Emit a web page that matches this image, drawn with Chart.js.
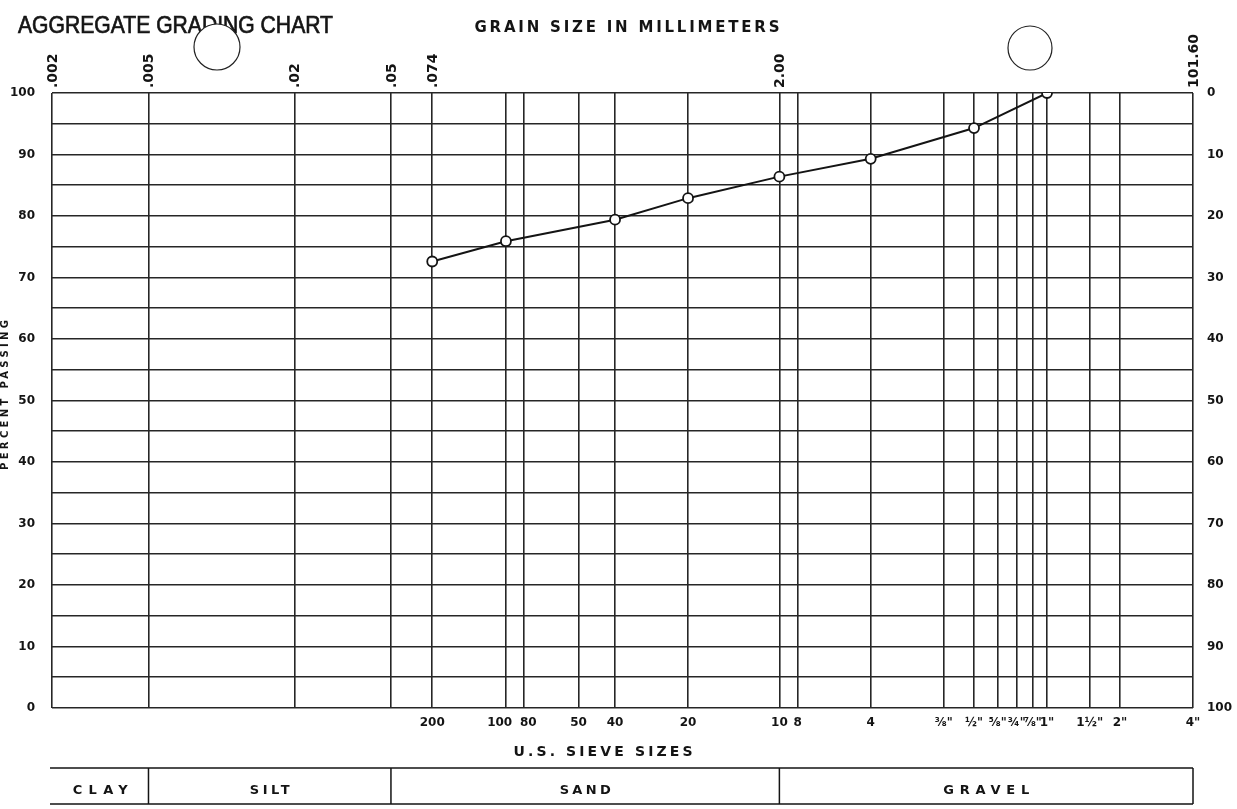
<!DOCTYPE html>
<html><head><meta charset="utf-8">
<script src="https://cdn.jsdelivr.net/npm/chart.js@4.4.1/dist/chart.umd.min.js"></script>
<style>html,body{margin:0;padding:0;background:#fff;overflow:hidden}#wrap{width:1237px;height:809px;position:relative}</style>
</head><body><div id="wrap"><canvas id="c" width="1237" height="809"></canvas></div>
<script>
// ---- text ----
const chartTitle = 'AGGREGATE GRADING CHART';
const topAxisTitle = 'GRAIN SIZE IN MILLIMETERS';
const bottomAxisTitle = 'U.S. SIEVE SIZES';
const leftAxisTitle = 'PERCENT PASSING';
// ---- grain size (mm) ticks on the top axis ----
const mmTicks = [0.002, 0.005, 0.02, 0.05, 0.074, 2.00, 101.6];
const mmLabels = ['.002', '.005', '.02', '.05', '.074', '2.00', '101.60'];
// ---- U.S. sieve sizes (mm) and their labels on the bottom axis ----
const sieveSizes = [0.074, 0.149, 0.177, 0.297, 0.42, 0.84, 2.00, 2.38, 4.76, 9.52, 12.7, 15.9, 19.05, 22.2, 25.4, 38.1, 50.8, 101.6];
const sieveLabels = ['200', '100', '80', '50', '40', '20', '10', '8', '4', '⅜"', '½"', '⅝"', '¾"', '⅞"', '1"', '1½"', '2"', '4"'];
// ---- test results: percent passing ----
const testSizes = [0.074, 0.149, 0.42, 0.84, 2.00, 4.76, 12.7, 25.4];
const percentPassing = [72.6, 75.9, 79.4, 82.9, 86.4, 89.3, 94.3, 100];
// ---- soil classification band ----
const soilClasses = ['CLAY', 'SILT', 'SAND', 'GRAVEL'];
const classBounds = [0.002, 0.005, 0.05, 2.00, 101.6];

const gridSizes = Array.from(new Set(mmTicks.concat(sieveSizes))).sort((a, b) => a - b);
const INK = '#141414';
const GRID = '#262626';
const FONT = '"DejaVu Sans", sans-serif';
const near = (a, b) => Math.abs(a - b) < 1e-9 * Math.max(1, b);

function spacedText(ctx, text, cx, cy, width, font) {
  ctx.save();
  ctx.font = font;
  ctx.letterSpacing = '0px';
  const w0 = ctx.measureText(text).width;
  const sp = text.length > 1 ? Math.max(0, (width - w0) / (text.length - 1)) : 0;
  ctx.letterSpacing = sp + 'px';
  ctx.textAlign = 'left';
  ctx.textBaseline = 'middle';
  ctx.fillText(text, cx - (w0 + sp * (text.length - 1)) / 2, cy);
  ctx.restore();
}

const decor = {
  id: 'decor',
  afterDraw(chart) {
    const ctx = chart.ctx;
    const xs = chart.scales.x;
    const area = chart.chartArea;
    ctx.save();
    ctx.fillStyle = INK;
    ctx.strokeStyle = INK;
    // title (condensed lettering)
    ctx.save();
    ctx.font = '24px "Liberation Sans", sans-serif';
    const tw = ctx.measureText(chartTitle).width;
    ctx.translate(18, 33);
    ctx.scale(315 / tw, 1);
    ctx.textBaseline = 'alphabetic';
    ctx.lineWidth = 0.7;
    ctx.fillText(chartTitle, 0, 0);
    ctx.strokeText(chartTitle, 0, 0);
    ctx.restore();
    // headers
    spacedText(ctx, topAxisTitle, 627, 28.5, 305, 'bold 15px ' + FONT);
    spacedText(ctx, bottomAxisTitle, 603, 752, 179, 'bold 14px ' + FONT);
    ctx.save();
    ctx.translate(5, 395);
    ctx.rotate(-Math.PI / 2);
    spacedText(ctx, leftAxisTitle, 0, 0, 150, 'bold 10px ' + FONT);
    ctx.restore();
    // classification band
    const yT = 768, yB = 804;
    ctx.lineWidth = 1.5;
    ctx.beginPath();
    ctx.moveTo(area.left - 2, yT); ctx.lineTo(area.right, yT);
    ctx.moveTo(area.left - 2, yB); ctx.lineTo(area.right, yB);
    classBounds.forEach((b, i) => {
      if (i === 0) return;
      const px = xs.getPixelForValue(b);
      ctx.moveTo(px, yT); ctx.lineTo(px, yB);
    });
    ctx.stroke();
    const widths = {CLAY: 55, SILT: 40, SAND: 51, GRAVEL: 86};
    soilClasses.forEach((name, i) => {
      const l = xs.getPixelForValue(classBounds[i]);
      const r = xs.getPixelForValue(classBounds[i + 1]);
      spacedText(ctx, name, (l + r) / 2, 791, widths[name], 'bold 13px ' + FONT);
    });
    // binder holes
    [[217, 47, 23], [1030, 48, 22]].forEach(([cx, cy, r]) => {
      ctx.beginPath();
      ctx.arc(cx, cy, r, 0, Math.PI * 2);
      ctx.fillStyle = '#fff';
      ctx.fill();
      ctx.lineWidth = 1.2;
      ctx.strokeStyle = '#222';
      ctx.stroke();
    });
    ctx.restore();
  }
};

new Chart(document.getElementById('c'), {
  type: 'line',
  data: {
    datasets: [{
      data: testSizes.map((s, i) => ({x: s, y: percentPassing[i]})),
      borderColor: INK,
      borderWidth: 2,
      pointRadius: 5,
      pointBorderWidth: 1.8,
      pointBackgroundColor: '#fff',
      pointBorderColor: INK,
      tension: 0,
      xAxisID: 'x',
      yAxisID: 'y'
    }]
  },
  options: {
    responsive: false,
    animation: false,
    layout: {padding: 0},
    plugins: {legend: {display: false}, tooltip: {enabled: false}, title: {display: false}},
    scales: {
      x: {
        type: 'logarithmic', position: 'bottom', min: 0.002, max: 101.6,
        afterBuildTicks: s => { s.ticks = gridSizes.map(v => ({value: v})); },
        afterFit: s => { s.height = 101; },
        ticks: {
          autoSkip: false, maxRotation: 0, minRotation: 0, padding: 8,
          color: INK,
          font: c => {
            const v = c.tick ? c.tick.value : 0;
            const i = sieveSizes.findIndex(s => near(s, v));
            const frac = i >= 0 && /[⅜½⅝¾⅞]/.test(sieveLabels[i]) && sieveLabels[i].length === 2;
            return {family: FONT, size: frac ? 11.5 : 12, weight: 'bold'};
          },
          callback: v => {
            const i = sieveSizes.findIndex(s => near(s, v));
            if (i < 0) return '';
            const t = sieveLabels[i];
            // keep the crowded "100 80" pair apart
            if (t === '100') return t + '   ';
            if (t === '80') return '  ' + t;
            return t;
          }
        },
        grid: {color: GRID, lineWidth: 1.6, drawTicks: false},
        border: {display: false}
      },
      x2: {
        type: 'logarithmic', position: 'top', min: 0.002, max: 101.6,
        afterBuildTicks: s => { s.ticks = mmTicks.map(v => ({value: v})); },
        afterFit: s => { s.height = 93; },
        ticks: {
          autoSkip: false, maxRotation: 90, minRotation: 90, padding: 5, labelOffset: 18,
          color: INK, font: {family: FONT, size: 14, weight: 'bold'},
          callback: v => { const i = mmTicks.findIndex(s => near(s, v)); return i < 0 ? '' : mmLabels[i]; }
        },
        grid: {drawOnChartArea: false, drawTicks: false},
        border: {display: false}
      },
      y: {
        type: 'linear', position: 'left', min: 0, max: 100,
        afterFit: s => { s.width = 52; },
        ticks: {
          stepSize: 5, padding: 17, color: INK, font: {family: FONT, size: 12, weight: 'bold'},
          callback: v => (v % 10 === 0 ? String(v) : '')
        },
        grid: {color: GRID, lineWidth: 1.6, drawTicks: false},
        border: {display: false}
      },
      y2: {
        type: 'linear', position: 'right', min: 0, max: 100, reverse: true,
        afterFit: s => { s.width = 44; },
        ticks: {stepSize: 10, padding: 14, color: INK, font: {family: FONT, size: 12, weight: 'bold'}},
        grid: {drawOnChartArea: false, drawTicks: false},
        border: {display: false}
      }
    }
  },
  plugins: [decor]
});
</script>
</body></html>
